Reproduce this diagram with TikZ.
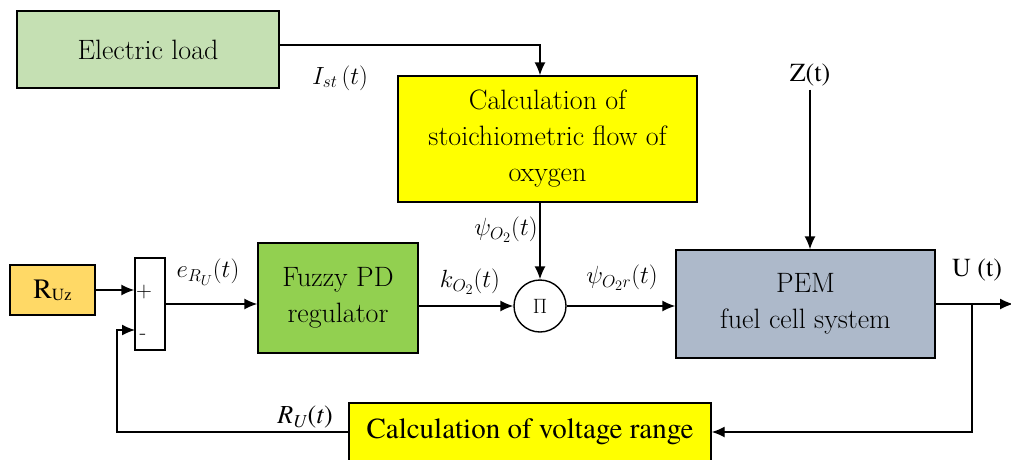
\documentclass[tikz,border=0pt]{standalone}
\usepackage{amsmath}
\usepackage{fontspec}
\usepackage{tikz}
\usetikzlibrary{arrows.meta}
\newfontfamily\tms[Ligatures=TeX,Extension=.otf,UprightFont=*-regular,ItalicFont=*-italic]{texgyretermes}
\definecolor{loadgreen}{HTML}{C5E0B3}
\definecolor{calcyellow}{HTML}{FFFF00}
\definecolor{refyellow}{HTML}{FFD966}
\definecolor{fuzzygreen}{HTML}{92D050}
\definecolor{pemgrey}{HTML}{ADB9CA}
\tikzset{
  blk/.style={draw,line width=1.4pt,align=center,font=\fontsize{28}{36}\selectfont},
  arr/.style={line width=1.4pt,-{Latex[length=13pt,width=11pt]}},
  lbl/.style={font=\fontsize{27}{30}\selectfont},
}

\begin{document}
\begin{tikzpicture}[x=1pt,y=-1pt]
  \useasboundingbox (0,0) rectangle (1011,459);
  % blocks
  \node[blk,fill=loadgreen,minimum width=262,minimum height=77] (load) at (148,49.5) {Electric load};
  \node[blk,fill=calcyellow,minimum width=299,minimum height=126] (calc) at (547.5,139)
    {Calculation of\\stoichiometric flow of\\oxygen};
  \node[blk,fill=pemgrey,minimum width=259,minimum height=108] (pem) at (805.5,304) {PEM\\fuel cell system};
  \node[blk,fill=refyellow,minimum width=85,minimum height=50,font=\tms\fontsize{28}{30}\selectfont] (ruz) at (52.5,290)
    {R\raisebox{-2pt}{\fontsize{17}{17}\selectfont Uz}};
  \node[draw,line width=1.4pt,fill=white,minimum width=30,minimum height=92] (sum) at (150,304) {};
  \node[font=\fontsize{22}{22}\selectfont] at (144,292) {+};
  \node[font=\fontsize{22}{22}\selectfont] at (143,337) {-};
  \node[blk,fill=fuzzygreen,minimum width=160,minimum height=110] (fuzzy) at (338,298) {Fuzzy PD\\regulator};
  \node[draw,circle,line width=1.4pt,minimum size=52,inner sep=0pt,font=\fontsize{22}{22}\selectfont] (pi) at (540,306) {$\Pi$};
  \node[blk,fill=calcyellow,minimum width=362,minimum height=58,font=\tms\fontsize{29}{32}\selectfont] (volt) at (530,432)
    {Calculation of voltage range};
  \node[lbl,font=\tms\fontsize{26}{28}\selectfont] (z) at (810,75) {Z(t)};
  \coordinate (out) at (1013,304);
  \coordinate (br) at (972,304);
  \coordinate (minus) at (135,330);
  \coordinate (back) at (117,432);
  % connectors
  \draw[arr] ([yshift=4.5pt]load.east) -| (pi |- calc.north);
  \draw[arr] (pi |- calc.south) -- (pi.north);
  \draw[arr] (ruz.east) -- (ruz.east -| sum.west);
  \draw[arr] (sum.east) -- (sum.east -| fuzzy.west);
  \draw[arr] (fuzzy.east |- pi) -- (pi.west);
  \draw[arr] (pi.east) -- (pi -| pem.west);
  \draw[arr] (z.south) -- (z |- pem.north);
  \draw[arr] (pem.east) -- (out);
  \draw[arr] (br) |- (volt.east);
  \draw[arr] (volt.west) -- (back) |- (minus);
  % signal labels
  \node[lbl] at (340,78) {$I_{st}\,(t)$};
  \node[lbl] at (208,272) {$e_{R_U}(t)$};
  \node[lbl] at (470,282) {$k_{O_2}(t)$};
  \node[lbl] at (506,230) {$\psi_{O_2}(t)$};
  \node[lbl] at (622,278) {$\psi_{O_2r}(t)$};
  \node[lbl,font=\tms\fontsize{26}{28}\selectfont] at (977,270) {U (t)};
  \node[lbl,font=\tms\fontsize{26}{28}\selectfont] at (305,417) {\textit{R}\textsubscript{\textit{U}}(\textit{t})};
\end{tikzpicture}
\end{document}
